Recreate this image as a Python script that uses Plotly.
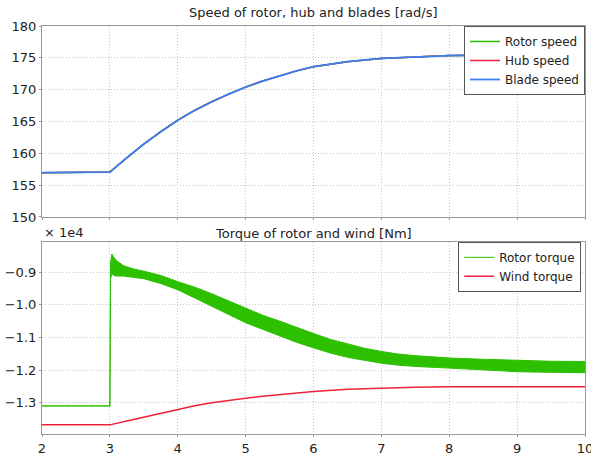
import plotly.graph_objects as go

# ---- data ----
t_speed = [2.0, 3.0, 3.25, 3.5, 3.75, 4.0, 4.25, 4.5, 4.75, 5.0, 5.25, 5.5, 5.75, 6.0, 6.5, 7.0, 7.5, 8.0, 8.5, 9.0, 9.5, 10.0]
rotor_speed = [156.95, 157.05, 159.3, 161.45, 163.4, 165.2, 166.75, 168.1, 169.3, 170.4, 171.35, 172.2, 172.95, 173.6, 174.4, 174.9, 175.15, 175.35, 175.42, 175.45, 175.45, 175.4]
hub_speed = [156.95, 157.05, 159.3, 161.45, 163.4, 165.2, 166.75, 168.1, 169.3, 170.4, 171.35, 172.2, 172.95, 173.6, 174.4, 174.9, 175.15, 175.35, 175.42, 175.45, 175.45, 175.4]
blade_speed = [156.95, 157.05, 159.3, 161.45, 163.4, 165.2, 166.75, 168.1, 169.3, 170.4, 171.35, 172.2, 172.95, 173.6, 174.4, 174.9, 175.15, 175.35, 175.42, 175.45, 175.45, 175.4]

# rotor torque oscillates rapidly: upper and lower envelopes of the band [Nm]
t_rotor = [2.0, 3.0, 3.01, 3.03, 3.06, 3.1, 3.2, 3.35, 3.5, 3.75, 4.0, 4.25, 4.5, 4.75, 5.0, 5.25, 5.5, 5.75, 6.0, 6.25, 6.5, 6.75, 7.0, 7.25, 7.5, 8.0, 8.5, 9.0, 9.5, 10.0]
rotor_torque_upper = [-13100, -13100, -8700, -8450, -8550, -8650, -8800, -8900, -8970, -9100, -9290, -9460, -9660, -9880, -10110, -10320, -10500, -10700, -10880, -11060, -11200, -11330, -11430, -11510, -11560, -11630, -11670, -11710, -11730, -11740]
rotor_torque_lower = [-13100, -13100, -9200, -9050, -9100, -9120, -9120, -9150, -9200, -9350, -9540, -9790, -10050, -10300, -10550, -10750, -10950, -11150, -11320, -11480, -11610, -11710, -11790, -11850, -11890, -11940, -12000, -12050, -12070, -12080]

t_wind = [2.0, 3.0, 3.25, 3.5, 3.75, 4.0, 4.25, 4.5, 4.75, 5.0, 5.25, 5.5, 5.75, 6.0, 6.5, 7.0, 7.5, 8.0, 9.0, 10.0]
wind_torque = [-13680, -13680, -13560, -13440, -13315, -13195, -13095, -13005, -12930, -12865, -12805, -12755, -12705, -12655, -12585, -12545, -12525, -12515, -12510, -12510]

x_ticks = [2, 3, 4, 5, 6, 7, 8, 9, 10]
speed_ticks = [150, 155, 160, 165, 170, 175, 180]
torque_tickvals = [-13000, -12000, -11000, -10000, -9000]
torque_ticktext = ["\u22121.3", "\u22121.2", "\u22121.1", "\u22121.0", "\u22120.9"]

GREEN = "#2cc000"
RED = "#f0203c"
BLUE = "#3a80f0"
FONT = "DejaVu Sans"

fig = go.Figure()

fig.add_trace(go.Scatter(x=t_speed, y=rotor_speed, mode="lines", name="Rotor speed",
                         line=dict(color=GREEN, width=1.5),
                         xaxis="x", yaxis="y", legend="legend"))
fig.add_trace(go.Scatter(x=t_speed, y=hub_speed, mode="lines", name="Hub speed",
                         line=dict(color=RED, width=1.5),
                         xaxis="x", yaxis="y", legend="legend"))
fig.add_trace(go.Scatter(x=t_speed, y=blade_speed, mode="lines", name="Blade speed",
                         line=dict(color=BLUE, width=1.8),
                         xaxis="x", yaxis="y", legend="legend"))

fig.add_trace(go.Scatter(x=t_rotor, y=rotor_torque_upper, mode="lines", name="Rotor torque",
                         line=dict(color=GREEN, width=1),
                         xaxis="x2", yaxis="y2", legend="legend2"))
fig.add_trace(go.Scatter(x=t_rotor, y=rotor_torque_lower, mode="lines", name="Rotor torque",
                         line=dict(color=GREEN, width=1), fill="tonexty", fillcolor=GREEN,
                         showlegend=False, xaxis="x2", yaxis="y2", legend="legend2"))
fig.add_trace(go.Scatter(x=t_wind, y=wind_torque, mode="lines", name="Wind torque",
                         line=dict(color=RED, width=1.5),
                         xaxis="x2", yaxis="y2", legend="legend2"))

axis_common = dict(showline=True, mirror=True, linecolor="#999999", linewidth=1.2,
                   showgrid=True, gridcolor="#c8c8c8", griddash="1px,2px", gridwidth=1,
                   zeroline=False, ticks="outside", ticklen=2, tickcolor="#999999",
                   automargin=False, ticklabeloverflow="allow",
                   tickfont=dict(family=FONT, size=13, color="#222222"))

fig.update_layout(
    width=591, height=455,
    margin=dict(l=42, r=6, t=26, b=21),
    paper_bgcolor="white", plot_bgcolor="white",
    font=dict(family=FONT, size=13, color="#222222"),
    xaxis=dict(domain=[0, 1], range=[2, 10], anchor="y", tickvals=x_ticks,
               showticklabels=False, **axis_common),
    yaxis=dict(domain=[0.532, 1.0], range=[150, 180], anchor="x", tickvals=speed_ticks,
               **axis_common),
    xaxis2=dict(domain=[0, 1], range=[2, 10], anchor="y2", tickvals=x_ticks, **axis_common),
    yaxis2=dict(domain=[0, 0.471], range=[-13960, -8070], anchor="x2",
                tickvals=torque_tickvals, ticktext=torque_ticktext, **axis_common),
    legend=dict(x=1, y=1, xanchor="right", yanchor="top", bgcolor="white",
                bordercolor="#555555", borderwidth=1, font=dict(family=FONT, size=12),
                tracegroupgap=0, traceorder="normal"),
    legend2=dict(x=0.993, y=0.471, xanchor="right", yanchor="top", bgcolor="white",
                 bordercolor="#555555", borderwidth=1, font=dict(family=FONT, size=12),
                 tracegroupgap=0, traceorder="normal"),
    annotations=[
        dict(text="Speed of rotor, hub and blades [rad/s]", x=0.5, y=1.034, xref="paper", yref="paper",
             xanchor="center", yanchor="middle", showarrow=False, font=dict(family=FONT, size=13)),
        dict(text="Torque of rotor and wind [Nm]", x=0.5, y=0.4926, xref="paper", yref="paper",
             xanchor="center", yanchor="middle", showarrow=False, font=dict(family=FONT, size=13)),
        dict(text="\u00d7 1e4", x=0.0, y=0.495, xref="paper", yref="paper",
             xanchor="left", yanchor="middle", showarrow=False, font=dict(family=FONT, size=13)),
    ],
)

fig.write_html("out.html", config={"displayModeBar": False},
               post_script="document.body.style.margin='0';")
